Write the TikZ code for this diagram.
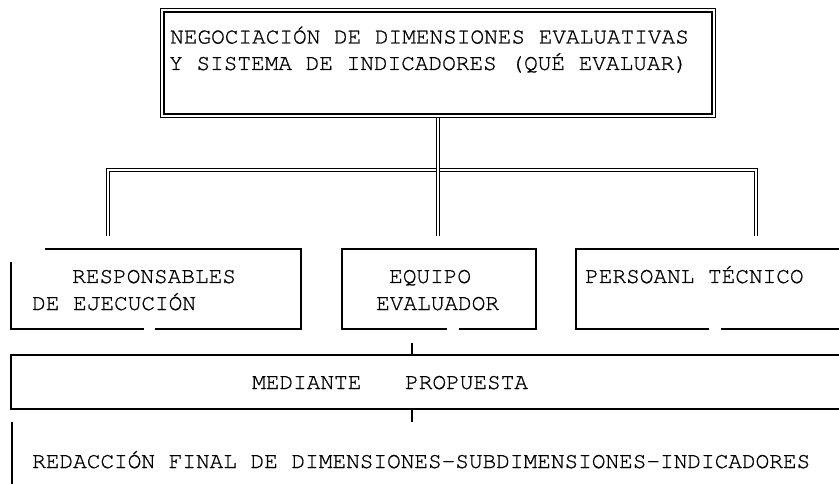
\documentclass[tikz,border=0pt]{standalone}
\usepackage{fontspec}
\IfFontExistsTF{TeX Gyre Cursor}{\newfontfamily\cour[FakeBold=0.8]{TeX Gyre Cursor}}{\newfontfamily\cour{Liberation Mono}}
\usetikzlibrary{calc}
\tikzset{
  txt/.style={font=\cour\fontsize{22.75}{27}\selectfont, inner sep=0pt, anchor=base west, text=black},
  edge/.style={line width=1.6pt, draw=black, line cap=rect},
  tick/.style={line width=1.3pt, draw=black},
  dbl/.style={double, double distance=2.2pt, line width=1.3pt, draw=black},
  area/.style={draw=none, inner sep=0pt, outer sep=0pt},
}
\begin{document}
\begin{tikzpicture}[x=1pt,y=-1pt]
\useasboundingbox (0,0) rectangle (839,484);
% boxes (areas)
\node[area, draw=black, double, double distance=2.2pt, line width=1.3pt,
      minimum width=551.6pt, minimum height=105.6pt] (top) at (438,63) {};
\node[area, minimum width=290pt, minimum height=80pt] (b1) at (156,289) {};
\node[area, minimum width=194pt, minimum height=80pt] (b2) at (439,289) {};
\node[area, minimum width=274pt, minimum height=80pt] (b3) at (713,289) {};
\node[area, minimum width=839pt, minimum height=54pt] (m) at (430.5,382) {};
\node[area, minimum width=838pt, minimum height=77pt] (r) at (431,461.5) {};
% texts
\node[txt] (t1) at (170,43.5) {NEGOCIACIÓN DE DIMENSIONES EVALUATIVAS};
\node[txt] (t2) at (169,70) {Y SISTEMA DE INDICADORES (QUÉ EVALUAR)};
\node[txt] (t3) at (72,283) {RESPONSABLES};
\node[txt] (t4) at (32,310) {DE EJECUCIÓN};
\node[txt] (t5) at (389,283) {EQUIPO};
\node[txt] (t6) at (376,310) {EVALUADOR};
\node[txt] (t7) at (585,283) {PERSOANL TÉCNICO};
\node[txt] (t8) at (252,389) {MEDIANTE};
\node[txt] (t9) at (405,389) {PROPUESTA};
\node[txt] (t10) at (32,468) {REDACCIÓN FINAL DE DIMENSIONES-SUBDIMENSIONES-INDICADORES};
% box borders
\draw[edge] ($(b1.north west)+(35,0)$) -- (b1.north east) -- (b1.south east) -- ($(b1.south west)+(145,0)$);
\draw[edge] ($(b1.south west)+(132,0)$) -- (b1.south west) -- ($(b1.south west)+(0,-66)$);
\draw[edge] ($(b2.south west)+(104,0)$) -- (b2.south west) -- (b2.north west) -- (b2.north east) -- (b2.south east) -- ($(b2.south west)+(118,0)$);
\draw[edge] ($(b3.south west)+(132,0)$) -- (b3.south west) -- (b3.north west) -- (b3.north east);
\draw[edge] ($(b3.south west)+(146,0)$) -- (b3.south east);
\draw[edge] (m.north east) -- (m.north west) -- (m.south west) -- (m.south east);
\draw[edge] (r.north west) -- (r.south west);
% double connectors
\coordinate (e1) at (108,236);
\coordinate (e2) at (438,236);
\coordinate (e3) at (756,236);
\coordinate (hl) at (108,170);
\coordinate (hr) at (756,170);
\draw[dbl] (e1) -- (hl) -- (hr) -- (e3);
\draw[dbl] ($(top.south)+(0,2.6)$) -- (e2);
% ticks
\coordinate (k1) at (412,343);
\coordinate (k2) at (412,422);
\draw[tick] (k1) -- (k1 |- m.north);
\draw[tick] (k2 |- m.south) -- (k2);
\end{tikzpicture}
\end{document}
